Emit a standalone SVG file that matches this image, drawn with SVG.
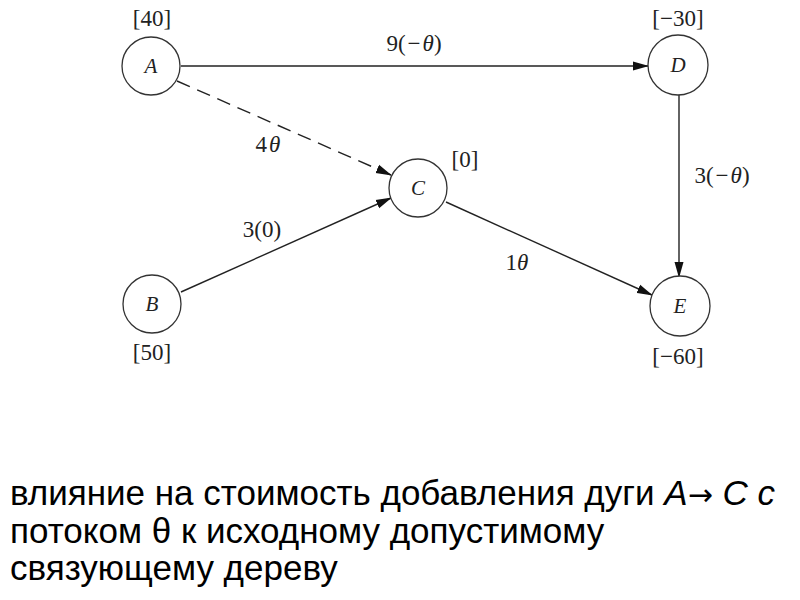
<svg xmlns="http://www.w3.org/2000/svg" width="800" height="600" viewBox="0 0 800 600">
<defs>
<marker id="arr" markerWidth="16" markerHeight="10" refX="15" refY="5" orient="auto" markerUnits="userSpaceOnUse">
<path d="M0,0.5 L16,5 L0,9.5 Z" fill="#111"/>
</marker>
<style>
.node circle{fill:#fff;stroke:#333;stroke-width:1.3}
.nl{font-family:"Liberation Serif",serif;font-style:italic;font-size:21px;fill:#222;text-anchor:middle}
.lb{font-family:"Liberation Serif",serif;font-size:23px;fill:#222;text-anchor:middle}
.e{stroke:#222;stroke-width:1.4;fill:none;marker-end:url(#arr)}
.cap{font-family:"Liberation Sans",Arial,sans-serif;font-size:35px;fill:#000}
</style>
</defs>
<rect width="800" height="600" fill="#fff"/>
<g id="connectors">
<line class="e" x1="181" y1="66" x2="648" y2="66"/>
<line class="e" x1="177" y1="81" x2="391" y2="175" stroke-dasharray="14,8"/>
<line class="e" x1="181" y1="292" x2="391" y2="198"/>
<line class="e" x1="446" y1="202" x2="652" y2="295"/>
<line class="e" x1="679" y1="95" x2="679" y2="277"/>
</g>
<g id="edge-labels">
<text class="lb" x="414" y="51">9(<tspan dx="2">−</tspan><tspan dx="2" font-style="italic">θ</tspan>)</text>
<text class="lb" x="268" y="152">4<tspan dx="2" font-style="italic">θ</tspan></text>
<text class="lb" x="722" y="183">3(<tspan dx="2">−</tspan><tspan dx="2" font-style="italic">θ</tspan>)</text>
<text class="lb" x="262" y="237">3(0)</text>
<text class="lb" x="517" y="270">1<tspan font-style="italic">θ</tspan></text>
</g>
<g id="A" class="node"><circle cx="151" cy="66" r="29"/><text class="nl" x="151" y="73">A</text><text class="lb" x="152" y="26">[40]</text></g>
<g id="D" class="node"><circle cx="678" cy="65" r="30"/><text class="nl" x="678" y="72">D</text><text class="lb" x="678" y="26">[−30]</text></g>
<g id="C" class="node"><circle cx="418" cy="188" r="29"/><text class="nl" x="418" y="195">C</text><text class="lb" x="465" y="167">[0]</text></g>
<g id="B" class="node"><circle cx="152" cy="304" r="29"/><text class="nl" x="152" y="311">B</text><text class="lb" x="152" y="360">[50]</text></g>
<g id="E" class="node"><circle cx="680" cy="306" r="30"/><text class="nl" x="680" y="313">E</text><text class="lb" x="678" y="364">[−60]</text></g>
<g id="caption">
<text class="cap" x="10" y="505">влияние на стоимость добавления дуги <tspan font-style="italic">A</tspan><tspan font-family="DejaVu Sans, sans-serif" font-size="30">→</tspan> <tspan font-style="italic">C с</tspan></text>
<text class="cap" x="10" y="543">потоком θ к исходному допустимому</text>
<text class="cap" x="10" y="580">связующему дереву</text>
</g>
</svg>
